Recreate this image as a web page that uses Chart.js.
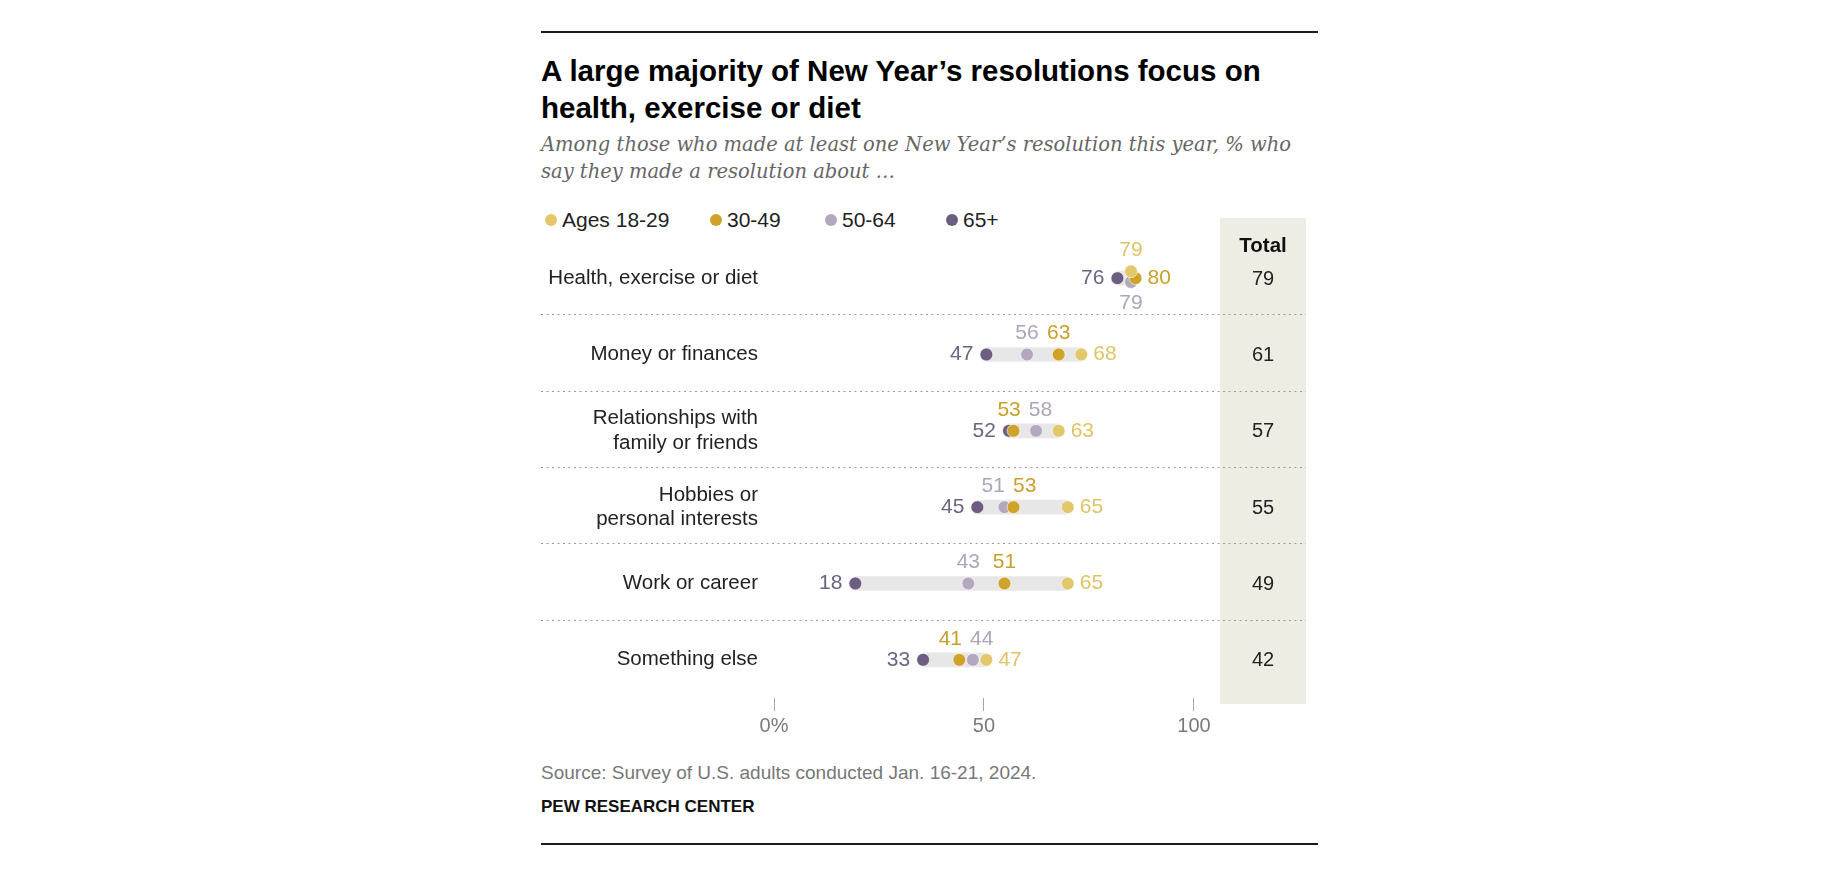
<!DOCTYPE html>
<html>
<head>
<meta charset="utf-8">
<script src="https://cdn.jsdelivr.net/npm/chart.js@4.4.1/dist/chart.umd.min.js"></script>
<style>
  body { margin: 0; background: #fff; width: 1840px; height: 877px; position: relative; overflow: hidden;
         font-family: "Liberation Sans", Arial, sans-serif; }
  .rule { position: absolute; left: 541px; width: 777px; height: 2px; background: #1a1a1a; }
  #title { position: absolute; left: 541px; top: 52px; width: 800px; font-weight: bold; font-size: 29.5px;
           line-height: 37px; color: #000; }
  #sub { position: absolute; left: 541px; top: 131px; width: 762px; font-family: "DejaVu Serif", serif;
         font-style: italic; font-size: 19.5px; line-height: 27px; color: #666; }
  #legend { position: absolute; left: 0; top: 208px; font-size: 21px; line-height: 24px; color: #222; }
  #legend .item { position: absolute; top: 0; display: flex; align-items: center; white-space: nowrap; }
  #legend i { display: inline-block; width: 12px; height: 12px; border-radius: 50%; margin-right: 5px; }
  #wrap { position: absolute; left: 541px; top: 200px; width: 777px; height: 560px; }
  #source { position: absolute; left: 541px; top: 763px; font-size: 19px; line-height: 20px; color: #777; }
  #org { position: absolute; left: 541px; top: 797px; font-size: 17px; line-height: 20px; font-weight: bold; color: #111; }
</style>
</head>
<body>
<div class="rule" style="top:31px"></div>
<div id="title">A large majority of New Year’s resolutions focus on<br>health, exercise or diet</div>
<div id="sub">Among those who made at least one New Year’s resolution this year, % who say they made a resolution about …</div>
<div id="legend"></div>
<div id="wrap"><canvas id="chart"></canvas></div>
<div id="source">Source: Survey of U.S. adults conducted Jan. 16-21, 2024.</div>
<div id="org">PEW RESEARCH CENTER</div>
<div class="rule" style="top:843px"></div>

<script>
// --- Data ---
const categories = ['Health, exercise or diet', 'Money or finances', 'Relationships with family or friends',
                    'Hobbies or personal interests', 'Work or career', 'Something else'];
const rowLabels = [['Health, exercise or diet'], ['Money or finances'], ['Relationships with', 'family or friends'],
                   ['Hobbies or', 'personal interests'], ['Work or career'], ['Something else']];
const seriesNames = ['Ages 18-29', '30-49', '50-64', '65+'];
const ages18to29 = [79, 68, 63, 65, 65, 47];
const ages30to49 = [80, 63, 53, 53, 51, 41];
const ages50to64 = [79, 56, 58, 51, 43, 44];
const ages65plus = [76, 47, 52, 45, 18, 33];
const totals = [79, 61, 57, 55, 49, 42];
const xTickValues = [0, 50, 100];

// --- Style ---
const colors = ['#e3c86b', '#cfa32a', '#b4a8be', '#6c5d81'];
const labelColors = ['#dfc466', '#c99f2b', '#afa4ba', '#6b6480'];
const legendX = [545, 710, 825, 946];
const jitter = { 0: [-0.09, 0, 0.05, 0] }; // Health row: the dots overlap, nudge them apart
Chart.defaults.font.family = '"Liberation Sans", Arial, sans-serif';

const allSeries = [ages18to29, ages30to49, ages50to64, ages65plus];

// --- Legend (html) ---
const legendBox = document.getElementById('legend');
seriesNames.forEach((n, s) => {
    legendBox.insertAdjacentHTML('beforeend',
        `<span class="item" style="left:${legendX[s]}px"><i style="background:${colors[s]}"></i>${n}</span>`);
});

// --- Datasets ---
const datasets = allSeries.map((vals, s) => ({
    type: 'scatter', label: seriesNames[s], xAxisID: 'x', yAxisID: 'y',
    data: vals.map((v, i) => ({ x: v, y: i + ((jitter[i] || [])[s] || 0) })),
    pointRadius: 6.4, pointBackgroundColor: colors[s], pointBorderColor: '#fff', pointBorderWidth: 0.6,
    clip: false
}));
datasets.push({
    type: 'bar', label: 'range', indexAxis: 'y', xAxisID: 'x', yAxisID: 'y',
    data: categories.map((c, i) => {
        const v = allSeries.map(a => a[i]);
        return { y: i, x: [Math.min(...v), Math.max(...v)] };
    }),
    backgroundColor: '#e7e7e7', barThickness: 14
});

// --- Plugins ---
const COL_W = 86;
const backdrop = {
    id: 'backdrop',
    beforeDraw(chart) {
        const { ctx, chartArea: a, scales: { y } } = chart;
        ctx.save();
        ctx.fillStyle = '#eeede3';
        ctx.fillRect(a.right, a.top - 22, COL_W, a.bottom - a.top + 28);
        ctx.strokeStyle = '#9a9a9a'; ctx.lineWidth = 1; ctx.setLineDash([2, 3.5]);
        for (let i = 0; i < categories.length - 1; i++) {
            // dividers sit a touch above the midpoint between rows
            const py = Math.round(y.getPixelForValue(i + 0.5)) - 2 + 0.5;
            ctx.beginPath(); ctx.moveTo(0, py); ctx.lineTo(a.right + COL_W, py); ctx.stroke();
        }
        ctx.restore();
    }
};

const valueLabels = {
    id: 'valueLabels',
    afterDatasetsDraw(chart) {
        const { ctx, chartArea: a, scales: { y } } = chart;
        ctx.save();
        ctx.font = '21px "Liberation Sans", Arial, sans-serif';
        ctx.textBaseline = 'middle';
        categories.forEach((c, i) => {
            const pts = allSeries.map((vals, s) => {
                const el = chart.getDatasetMeta(s).data[i];
                return { s, v: vals[i], x: el.x, y: el.y, w: ctx.measureText(String(vals[i])).width };
            });
            const sorted = [...pts].sort((p, q) => p.v - q.v);
            const lo = sorted[0], hi = sorted[sorted.length - 1];
            const mids = sorted.slice(1, -1);
            const above = [];
            mids.forEach(p => {
                p.cx = p.x;
                if ((jitter[i] || [])[p.s] > 0) p.pos = 'below';
                else { p.pos = 'above'; above.push(p); }
            });
            // push apart labels above the dots that would overlap
            above.sort((p, q) => p.x - q.x);
            for (let k = 1; k < above.length; k++) {
                const A = above[k - 1], B = above[k];
                const need = (A.w + B.w) / 2 + 8;
                const d = B.cx - A.cx;
                if (d < need) { A.cx -= (need - d) / 2; B.cx += (need - d) / 2; }
            }
            ctx.fillStyle = labelColors[lo.s]; ctx.textAlign = 'right';
            ctx.fillText(lo.v, lo.x - 13, lo.y);
            ctx.fillStyle = labelColors[hi.s]; ctx.textAlign = 'left';
            ctx.fillText(hi.v, hi.x + 12, hi.y);
            ctx.textAlign = 'center';
            mids.forEach(p => {
                ctx.fillStyle = labelColors[p.s];
                ctx.fillText(p.v, p.cx, p.pos === 'above' ? p.y - 21 : p.y + 21);
            });
        });
        // Total column
        const cx = a.right + COL_W / 2;
        ctx.textAlign = 'center'; ctx.fillStyle = '#111';
        ctx.font = 'bold 20.5px "Liberation Sans", Arial, sans-serif';
        ctx.fillText('Total', cx, a.top + 6);
        ctx.font = '20px "Liberation Sans", Arial, sans-serif'; ctx.fillStyle = '#222';
        totals.forEach((t, i) => ctx.fillText(t, cx, y.getPixelForValue(i) + 1));
        ctx.restore();
    }
};

// --- Chart ---
new Chart(document.getElementById('chart'), {
    type: 'scatter',
    data: { datasets },
    options: {
        responsive: true, maintainAspectRatio: false, animation: false, events: [],
        layout: { padding: { top: 40, right: 98, bottom: 22, left: 0 } },
        plugins: { legend: { display: false }, tooltip: { enabled: false } },
        scales: {
            x: { type: 'linear', min: 0, max: 98.7, display: false, offset: false },
            xTicks: {
                type: 'linear', axis: 'x', position: 'bottom', min: 0, max: 106.2, offset: false,
                afterBuildTicks: s => { s.ticks = xTickValues.map(v => ({ value: v })); },
                afterFit: s => { s.height = 40; },
                grid: { drawOnChartArea: false, tickLength: 13, color: '#a6a6a6' },
                border: { display: false },
                ticks: { padding: 3, color: '#7a7a7a', font: { size: 20 }, callback: v => v === 0 ? '0%' : v }
            },
            y: {
                type: 'linear', reverse: true, min: -0.5, max: 5.5, offset: false,
                afterBuildTicks: s => { s.ticks = categories.map((c, i) => ({ value: i })); },
                afterFit: s => { s.width = 233; },
                grid: { display: false, drawTicks: false, offset: false },
                border: { display: false },
                ticks: { padding: 16, color: '#222', font: { size: 20.5 }, callback: v => rowLabels[v] }
            }
        }
    },
    plugins: [backdrop, valueLabels]
});
</script>
</body>
</html>
